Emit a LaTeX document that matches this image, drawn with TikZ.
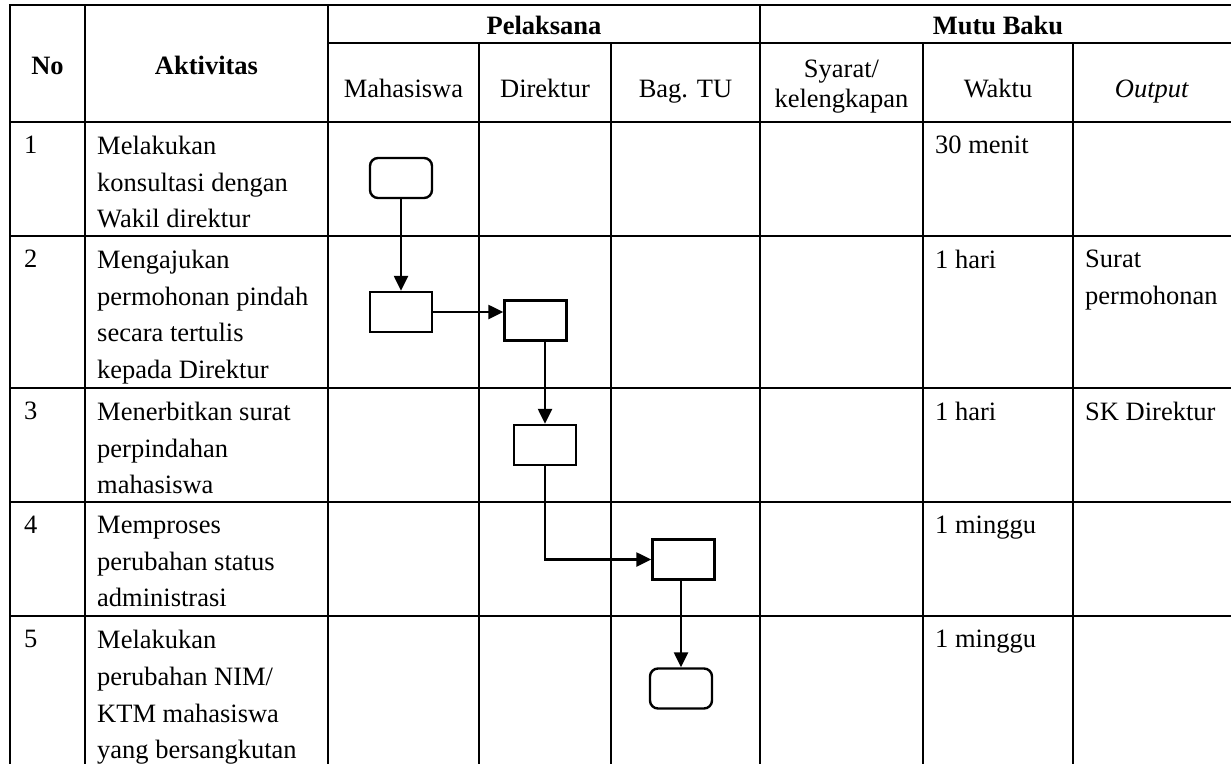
\documentclass[tikz,border=0pt]{standalone}
\usepackage{fontspec}
\setmainfont{Liberation Serif}
\usetikzlibrary{arrows.meta,positioning}
\tikzset{
  grid/.style={line width=2.4pt},
  box/.style={draw,line width=2.4pt,minimum width=62pt,minimum height=40pt,inner sep=0pt},
  term/.style={box,rounded corners=8pt},
  cell/.style={inner sep=0pt,anchor=north west,align=left,font=\tnr},
  head/.style={inner sep=0pt,anchor=base,font=\tnr\bfseries},
  sub/.style={inner sep=0pt,anchor=base,font=\tnr},
  flow/.style={line width=2.4pt,-{Triangle[length=15pt,width=14pt]}}
}
\newcommand{\tnr}{\fontsize{26.5}{36.7}\selectfont}

\begin{document}
\begin{tikzpicture}[x=1pt,y=-1pt]
  \useasboundingbox (0,0) rectangle (1231,764);
  % table lines
  \draw[grid] (8.8,5) -- (1231,5);
  \draw[grid] (328,43) -- (1231,43);
  \draw[grid] (10,122) -- (1231,122);
  \draw[grid] (10,236) -- (1231,236);
  \draw[grid] (10,388) -- (1231,388);
  \draw[grid] (10,502) -- (1231,502);
  \draw[grid] (10,616) -- (1231,616);
  \draw[grid] (10,5) -- (10,764);
  \draw[grid] (85,5) -- (85,764);
  \draw[grid] (328,5) -- (328,764);
  \draw[grid] (760,5) -- (760,764);
  \draw[grid] (479,43) -- (479,764);
  \draw[grid] (611,43) -- (611,764);
  \draw[grid] (923,43) -- (923,764);
  \draw[grid] (1073,43) -- (1073,764);
  % header
  \node[head] (hno) at (47.5,74) {No};
  \node[head] (hakt) at (206.5,74) {Aktivitas};
  \node[head] (hpel) at (544,34) {Pelaksana};
  \node[head] (hmutu) at (998,34) {Mutu Baku};
  \node[sub] (hmhs) at (403.5,97) {Mahasiswa};
  \node[sub] (hdir) at (545,97) {Direktur};
  \node[sub] (htu) at (685.5,97) {Bag. TU};
  \node[inner sep=0pt,anchor=north,align=center,font=\fontsize{26.5}{30}\selectfont] (hsyr) at (841.5,60) {Syarat/\\kelengkapan};
  \node[sub] (hwkt) at (998,97) {Waktu};
  \node[sub] (hout) at (1152,97) {\textit{Output}};
  % rows
  \node[cell] (n1) at (24,136) {1};
  \node[cell] (a1) at (97,136) {Melakukan\\konsultasi dengan\\Wakil direktur};
  \node[cell] (w1) at (935,136) {30 menit};
  \node[cell] (n2) at (24,250) {2};
  \node[cell] (a2) at (97,250) {Mengajukan\\permohonan pindah\\secara tertulis\\kepada Direktur};
  \node[cell] (w2) at (935,250) {1 hari};
  \node[cell] (o2) at (1085,250) {Surat\\permohonan};
  \node[cell] (n3) at (24,402) {3};
  \node[cell] (a3) at (97,402) {Menerbitkan surat\\perpindahan\\mahasiswa};
  \node[cell] (w3) at (935,402) {1 hari};
  \node[cell] (o3) at (1085,402) {SK Direktur};
  \node[cell] (n4) at (24,516) {4};
  \node[cell] (a4) at (97,516) {Memproses\\perubahan status\\administrasi};
  \node[cell] (w4) at (935,516) {1 minggu};
  \node[cell] (n5) at (24,630) {5};
  \node[cell] (a5) at (97,630) {Melakukan\\perubahan NIM/\\KTM mahasiswa\\yang bersangkutan};
  \node[cell] (w5) at (935,630) {1 minggu};
  % flow
  \node[term] (m1) at (401,178) {};
  \node[box] (m2) at (401,312) {};
  \node[box] (d2) at (535.5,320.5) {};
  \node[box] (d3) at (545,445) {};
  \node[box] (t4) at (683.5,559.5) {};
  \node[term] (t5) at (681,688.5) {};
  \draw[flow] (m1) -- (m2);
  \draw[flow] (m2.east) -- (m2.east -| d2.west);
  \draw[flow] (d3.north |- d2.south) -- (d3.north);
  \draw[flow] (d3.south) |- (t4.west);
  \draw[flow] (t5.north |- t4.south) -- (t5.north);
\end{tikzpicture}
\end{document}
